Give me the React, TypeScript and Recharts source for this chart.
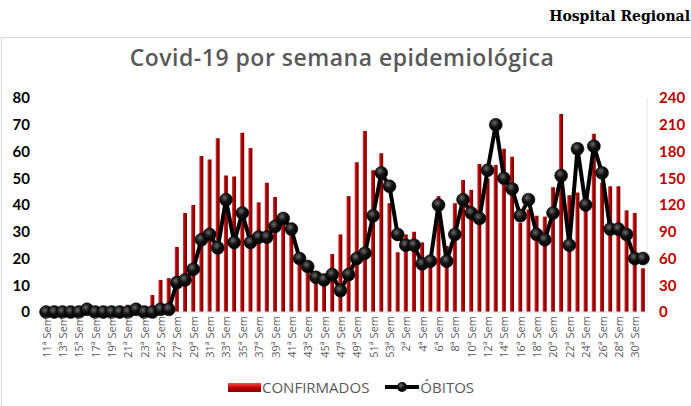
import { ComposedChart, Bar, Line, XAxis, YAxis } from 'recharts'

const semanas = [
  '11ª Sem', '12ª Sem', '13ª Sem', '14ª Sem', '15ª Sem', '16ª Sem', '17ª Sem', '18ª Sem', '19ª Sem', '20ª Sem',
  '21ª Sem', '22ª Sem', '23ª Sem', '24ª Sem', '25ª Sem', '26ª Sem', '27ª Sem', '28ª Sem', '29ª Sem', '30ª Sem',
  '31ª Sem', '32ª Sem', '33ª Sem', '34ª Sem', '35ª Sem', '36ª Sem', '37ª Sem', '38ª Sem', '39ª Sem', '40ª Sem',
  '41ª Sem', '42ª Sem', '43ª Sem', '44ª Sem', '45ª Sem', '46ª Sem', '47ª Sem', '48ª Sem', '49ª Sem', '50ª Sem',
  '51ª Sem', '52ª Sem', '53ª Sem', '1ª Sem', '2ª Sem', '3ª Sem', '4ª Sem', '5ª Sem', '6ª Sem', '7ª Sem',
  '8ª Sem', '9ª Sem', '10ª Sem', '11ª Sem', '12ª Sem', '13ª Sem', '14ª Sem', '15ª Sem', '16ª Sem', '17ª Sem',
  '18ª Sem', '19ª Sem', '20ª Sem', '21ª Sem', '22ª Sem', '23ª Sem', '24ª Sem', '25ª Sem', '26ª Sem', '27ª Sem',
  '28ª Sem', '29ª Sem', '30ª Sem', '31ª Sem',
]

// eixo direito (0-240)
const confirmados = [
  0, 0, 0, 0, 0, 0, 0, 0, 0, 0,
  8, 0, 0, 19, 36, 38, 73, 111, 120, 175,
  171, 195, 153, 152, 201, 184, 123, 145, 129, 100,
  88, 60, 48, 36, 32, 65, 87, 130, 168, 203,
  159, 178, 122, 67, 87, 90, 78, 55, 130, 74,
  122, 148, 137, 166, 150, 165, 183, 174, 100, 115,
  108, 107, 140, 222, 131, 134, 115, 200, 145, 141,
  141, 114, 111, 49,
]

// eixo esquerdo (0-80)
const obitos = [
  0, 0, 0, 0, 0, 1, 0, 0, 0, 0,
  0, 1, 0, 0, 1, 1, 11, 12, 16, 27,
  29, 24, 42, 26, 37, 26, 28, 28, 32, 35,
  31, 20, 17, 13, 12, 14, 8, 14, 20, 22,
  36, 52, 47, 29, 25, 25, 18, 19, 40, 19,
  29, 42, 37, 35, 53, 70, 50, 46, 36, 42,
  29, 27, 37, 51, 25, 61, 40, 62, 52, 31,
  31, 29, 20, 20,
]

const ticksEsq = [0, 10, 20, 30, 40, 50, 60, 70, 80]
const ticksDir = [0, 30, 60, 90, 120, 150, 180, 210, 240]

const data = semanas.map((semana, i) => ({
  semana,
  confirmados: confirmados[i],
  obitos: obitos[i],
}))

const SemanaTick = (props: any) => {
  const { x, y, payload } = props
  return (
    <text
      x={x}
      y={y}
      transform={`rotate(-90, ${x}, ${y})`}
      textAnchor="end"
      dominantBaseline="central"
      fontSize={11}
      fontFamily="'Open Sans', sans-serif"
      fill="#595959"
    >
      {payload.value}
    </text>
  )
}

const Bolinha = (props: any) => {
  const { cx, cy, index } = props
  if (cx == null || cy == null) return null
  return <circle key={index} cx={cx} cy={cy} r={6.5} fill="url(#gradBolinha)" stroke="#000" strokeWidth={0.5} />
}

export default function App() {
  return (
    <div style={{ position: 'absolute', left: 0, top: 0, width: 691, height: 406, background: '#fff', overflow: 'hidden' }}>
      <svg width={0} height={0} style={{ position: 'absolute' }}>
        <defs>
          <linearGradient id="gradBarra" x1="0" y1="0" x2="1" y2="0">
            <stop offset="0%" stopColor="#e23a3a" />
            <stop offset="45%" stopColor="#a80000" />
            <stop offset="100%" stopColor="#6e0000" />
          </linearGradient>
          <radialGradient id="gradBolinha" cx="40%" cy="35%" r="65%">
            <stop offset="0%" stopColor="#6a6a6a" />
            <stop offset="50%" stopColor="#111" />
            <stop offset="100%" stopColor="#000" />
          </radialGradient>
        </defs>
      </svg>

      <div
        style={{
          position: 'absolute', right: 1, top: 8,
          fontFamily: "'DejaVu Serif', serif", fontWeight: 700, fontSize: 14, color: '#000',
        }}
      >
        Hospital Regional
      </div>

      <div style={{ position: 'absolute', left: 1, top: 37, width: 720, height: 400, border: '1px solid #d9d9d9' }} />

      <div
        style={{
          position: 'absolute', left: 0, top: 41, width: 684, textAlign: 'center',
          fontFamily: "'Open Sans', sans-serif", fontWeight: 600, fontSize: 23, letterSpacing: 0.5, color: '#595959',
        }}
      >
        Covid-19 por semana epidemiológica
      </div>

      <div style={{ position: 'absolute', left: 0, top: 0 }}>
        <ComposedChart width={691} height={406} data={data} margin={{ top: 98, right: 0, bottom: 0, left: 0 }}>
          <XAxis
            dataKey="semana"
            interval={1}
            height={94}
            tickLine={false}
            tickSize={0}
            tickMargin={4}
            axisLine={{ stroke: '#d9d9d9' }}
            tick={<SemanaTick />}
          />
          <YAxis
            yAxisId="esq"
            orientation="left"
            width={42}
            domain={[0, 80]}
            ticks={ticksEsq}
            interval={0}
            axisLine={false}
            tickLine={false}
            tickSize={0}
            tickMargin={12}
            tick={{ fill: '#000', fontSize: 15, fontWeight: 700, fontFamily: 'Lato, sans-serif' }}
          />
          <YAxis
            yAxisId="dir"
            orientation="right"
            width={44}
            domain={[0, 240]}
            ticks={ticksDir}
            interval={0}
            axisLine={{ stroke: '#e6e6e6' }}
            tickLine={false}
            tickSize={0}
            tickMargin={12}
            tick={{ fill: '#c00000', fontSize: 15, fontWeight: 700, fontFamily: 'Lato, sans-serif', textAnchor: 'start' }}
          />
          <Bar yAxisId="dir" dataKey="confirmados" fill="url(#gradBarra)" barSize={4} isAnimationActive={false} />
          <Line
            yAxisId="esq"
            dataKey="obitos"
            stroke="#000"
            strokeWidth={4}
            dot={<Bolinha />}
            activeDot={false}
            isAnimationActive={false}
          />
        </ComposedChart>
      </div>

      <div
        style={{
          position: 'absolute', left: 228, top: 377, display: 'flex', alignItems: 'center',
          fontFamily: "'Open Sans', sans-serif", fontSize: 15, color: '#595959',
        }}
      >
        <span style={{ display: 'inline-block', width: 33, height: 9, background: 'linear-gradient(#ff4a4a, #c00000 50%, #8a0000)' }} />
        <span style={{ marginLeft: 1 }}>CONFIRMADOS</span>
        <svg width={34} height={12} style={{ marginLeft: 16 }}>
          <line x1={0} y1={6} x2={34} y2={6} stroke="#000" strokeWidth={4} />
          <circle cx={17} cy={6} r={5} fill="url(#gradBolinha)" />
        </svg>
        <span style={{ marginLeft: 1 }}>ÓBITOS</span>
      </div>
    </div>
  )
}
